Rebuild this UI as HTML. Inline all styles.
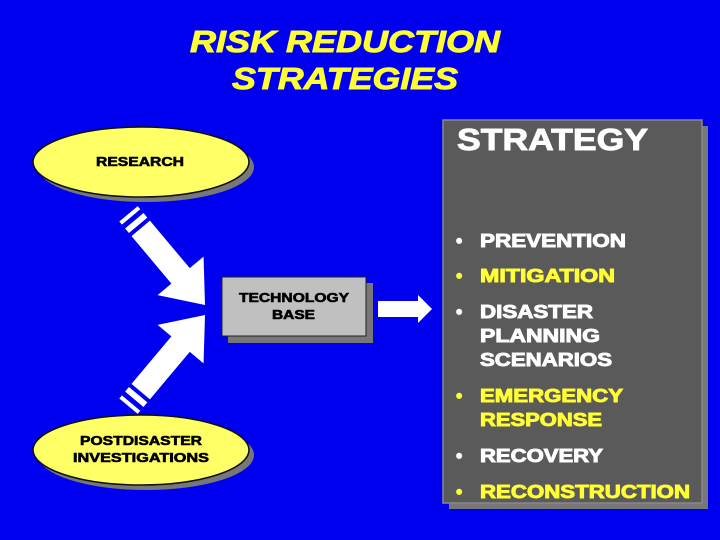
<!DOCTYPE html>
<html><head><meta charset="utf-8"><style>
html,body{margin:0;padding:0;background:#0000f0;}
svg{display:block;}
text{font-family:"Liberation Sans",Arial,sans-serif;font-weight:bold;}
.w{fill:#fff;stroke:#fff;stroke-width:0.9;}
.y{fill:#ffff33;stroke:#ffff33;stroke-width:0.9;}
.k{fill:#000;stroke:#000;stroke-width:0.6;}
</style></head><body>
<svg width="720" height="540" viewBox="0 0 720 540" xmlns="http://www.w3.org/2000/svg">
<rect width="720" height="540" fill="#0000f0"/>
<text class="y" x="190" y="52" font-size="31" font-style="italic" textLength="310" lengthAdjust="spacingAndGlyphs">RISK REDUCTION</text>
<text class="y" x="232" y="89" font-size="31" font-style="italic" textLength="226" lengthAdjust="spacingAndGlyphs">STRATEGIES</text>
<ellipse cx="146" cy="167" rx="108" ry="35" fill="#777"/>
<ellipse cx="141" cy="162" rx="108" ry="35" fill="#ffff66" stroke="#111" stroke-width="1.5"/>
<text class="k" x="96" y="166" font-size="13" textLength="88" lengthAdjust="spacingAndGlyphs">RESEARCH</text>
<ellipse cx="146" cy="455" rx="108" ry="35" fill="#777"/>
<ellipse cx="141" cy="450" rx="108" ry="35" fill="#ffff66" stroke="#111" stroke-width="1.5"/>
<text class="k" x="80" y="445" font-size="13" textLength="122" lengthAdjust="spacingAndGlyphs">POSTDISASTER</text>
<text class="k" x="73" y="462" font-size="13" textLength="136" lengthAdjust="spacingAndGlyphs">INVESTIGATIONS</text>
<g fill="#fff">
<g transform="translate(205,305) rotate(50)">
<polygon points="0,0 -38,-30 -38,-12 -100,-12 -100,12 -38,12 -38,30"/>
<rect x="-110" y="-12" width="6" height="24"/>
<rect x="-119" y="-12" width="4" height="24"/>
</g>
<g transform="translate(205,315) rotate(-50)">
<polygon points="0,0 -38,-30 -38,-12 -100,-12 -100,12 -38,12 -38,30"/>
<rect x="-110" y="-12" width="6" height="24"/>
<rect x="-119" y="-12" width="4" height="24"/>
</g>
<polygon points="378,301 418,301 418,295 432,309 418,323 418,317 378,317"/>
</g>
<rect x="228" y="283" width="145" height="60" fill="#777"/>
<rect x="222" y="277" width="144" height="59" fill="#c0c0c0" stroke="#222" stroke-width="1"/>
<text class="k" x="239" y="302" font-size="13" textLength="110" lengthAdjust="spacingAndGlyphs">TECHNOLOGY</text>
<text class="k" x="272" y="319" font-size="13" textLength="43" lengthAdjust="spacingAndGlyphs">BASE</text>
<rect x="449" y="126" width="259" height="383" fill="#777"/>
<rect x="443" y="120" width="259" height="383" fill="#5a5a5a" stroke="#888" stroke-width="1.5"/>
<text class="w" x="457" y="150" font-size="31" textLength="191" lengthAdjust="spacingAndGlyphs">STRATEGY</text>
<g font-size="18">
<text class="w" x="456" y="247">•</text><text class="w" x="480" y="247" textLength="146" lengthAdjust="spacingAndGlyphs">PREVENTION</text>
<text class="y" x="456" y="282">•</text><text class="y" x="480" y="282" textLength="135" lengthAdjust="spacingAndGlyphs">MITIGATION</text>
<text class="w" x="456" y="318">•</text><text class="w" x="480" y="318" textLength="113" lengthAdjust="spacingAndGlyphs">DISASTER</text>
<text class="w" x="480" y="342" textLength="120" lengthAdjust="spacingAndGlyphs">PLANNING</text>
<text class="w" x="480" y="366" textLength="132" lengthAdjust="spacingAndGlyphs">SCENARIOS</text>
<text class="y" x="456" y="402">•</text><text class="y" x="480" y="402" textLength="143" lengthAdjust="spacingAndGlyphs">EMERGENCY</text>
<text class="y" x="480" y="426" textLength="122" lengthAdjust="spacingAndGlyphs">RESPONSE</text>
<text class="w" x="456" y="462">•</text><text class="w" x="480" y="462" textLength="123" lengthAdjust="spacingAndGlyphs">RECOVERY</text>
<text class="y" x="456" y="498">•</text><text class="y" x="480" y="498" textLength="210" lengthAdjust="spacingAndGlyphs">RECONSTRUCTION</text>
</g>
</svg>
</body></html>
